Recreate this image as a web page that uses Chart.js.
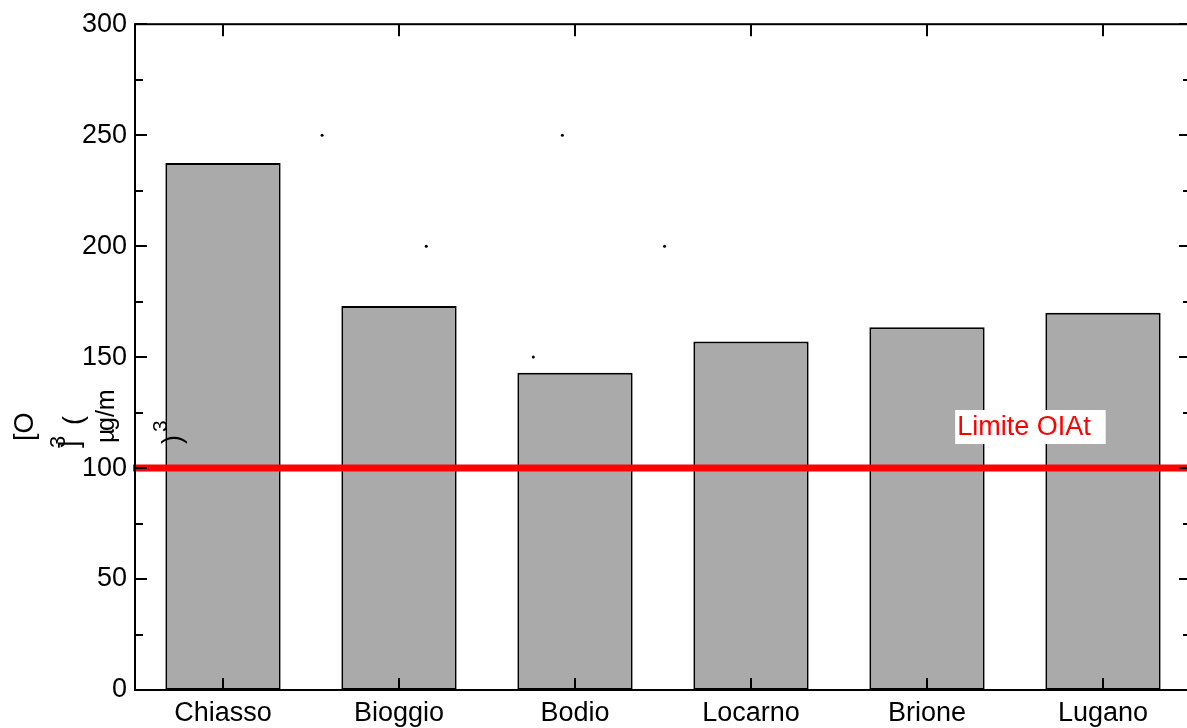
<!DOCTYPE html>
<html>
<head>
<meta charset="utf-8">
<script src="https://cdn.jsdelivr.net/npm/chart.js@4.4.1/dist/chart.umd.min.js"></script>
<style>
  html, body { margin: 0; padding: 0; background: #ffffff; overflow: hidden; }
  #wrap { position: relative; width: 1187px; height: 728px; overflow: hidden; }
  #chart { display: block; }
</style>
</head>
<body>
<div id="wrap"><canvas id="chart" width="1195" height="728"></canvas></div>
<script>
// Ozone peak concentrations per station (µg/m³)
const CATEGORIES = ['Chiasso', 'Bioggio', 'Bodio', 'Locarno', 'Brione', 'Lugano'];
const O3_PEAK = [237.5, 173, 143, 157, 163.5, 170];

// OIAt hourly limit value
const LIMIT_VALUE = 100;
const LIMIT_LABEL = 'Limite OIAt';

// Stray marker points (x in station-index units)
const MARK_X = [0.563, 1.928, 1.155, 2.509, 1.763];
const MARK_Y = [250, 250, 200, 200, 150];

const Y_MIN = 0, Y_MAX = 300, Y_STEP = 50, Y_MINOR = 25;

const FONT = '"Liberation Sans", Arial, sans-serif';
Chart.defaults.font.family = FONT;
Chart.defaults.color = '#000000';

// Frame, inward ticks, limit line, label and axis title
const decorations = {
  id: 'decorations',
  afterDatasetsDraw(chart) {
    const { ctx, chartArea: a, scales } = chart;
    const y = scales.y, x = scales.x, x2 = scales.x2;
    ctx.save();

    // limit line
    const yl = y.getPixelForValue(LIMIT_VALUE);
    ctx.strokeStyle = '#ff0000';
    ctx.lineWidth = 7;
    ctx.beginPath();
    ctx.moveTo(a.left - 2, yl);
    ctx.lineTo(a.right, yl);
    ctx.stroke();

    // frame
    ctx.strokeStyle = '#000000';
    ctx.lineWidth = 2;
    ctx.strokeRect(a.left, a.top, a.right - a.left, a.bottom - a.top);

    // y ticks, left and right, pointing inward
    for (let v = Y_MIN; v <= Y_MAX; v += Y_MINOR) {
      const py = Math.round(y.getPixelForValue(v));
      const len = (v % Y_STEP === 0) ? 12 : 8;
      ctx.beginPath();
      ctx.moveTo(a.left, py); ctx.lineTo(a.left + len, py);
      ctx.moveTo(a.right, py); ctx.lineTo(a.right - len, py);
      ctx.stroke();
    }
    // x ticks at each station, top and bottom, pointing inward
    CATEGORIES.forEach((c, i) => {
      const px = Math.round(x.getPixelForValue(i));
      ctx.beginPath();
      ctx.moveTo(px, a.top); ctx.lineTo(px, a.top + 12);
      ctx.moveTo(px, a.bottom); ctx.lineTo(px, a.bottom - 12);
      ctx.stroke();
    });

    // limit label on white box
    ctx.font = '27px ' + FONT;
    const tw = ctx.measureText(LIMIT_LABEL).width;
    const bx = x2.getPixelForValue(4.16);
    const by = y.getPixelForValue(118.5);
    ctx.fillStyle = '#ffffff';
    ctx.fillRect(bx, by - 17, tw + 17, 34);
    ctx.fillStyle = '#ff0000';
    ctx.textBaseline = 'middle';
    ctx.textAlign = 'left';
    ctx.fillText(LIMIT_LABEL, bx + 2, by + 1);

    // rotated y-axis title pieces
    ctx.fillStyle = '#000000';
    ctx.textBaseline = 'alphabetic';
    const parts = [
      { t: '[O', s: 27, x: 33, y: 441 },
      { t: '3', s: 22, x: 65, y: 448 },
      { t: ']', s: 27, x: 78, y: 448 },
      { t: '(', s: 27, x: 82, y: 425 },
      { t: 'µ', s: 25, x: 114, y: 443 },
      { t: 'g/m', s: 25, x: 114, y: 431 },
      { t: '3', s: 21, x: 167, y: 432 },
      { t: ')', s: 27, x: 181, y: 444 }
    ];
    parts.forEach(p => {
      ctx.save();
      ctx.translate(p.x, p.y);
      ctx.rotate(-Math.PI / 2);
      ctx.font = p.s + 'px ' + FONT;
      ctx.fillText(p.t, 0, 0);
      ctx.restore();
    });

    ctx.restore();
  }
};

new Chart(document.getElementById('chart'), {
  type: 'bar',
  data: {
    labels: CATEGORIES,
    datasets: [
      {
        data: O3_PEAK,
        backgroundColor: '#aaaaaa',
        borderColor: '#000000',
        borderWidth: 2,
        borderSkipped: false,
        barPercentage: 0.655,
        categoryPercentage: 1,
        grouped: false,
        order: 1
      },
      {
        type: 'scatter',
        data: MARK_X.map((v, i) => ({ x: v, y: MARK_Y[i] })),
        xAxisID: 'x2',
        pointRadius: 1.5,
        pointBackgroundColor: '#000000',
        pointBorderWidth: 0,
        order: 0
      }
    ]
  },
  options: {
    responsive: false,
    animation: false,
    layout: { padding: { top: 23, right: 0, bottom: 0, left: 0 } },
    plugins: { legend: { display: false }, tooltip: { enabled: false } },
    scales: {
      x: {
        type: 'category',
        offset: true,
        grid: { display: false, drawTicks: false },
        border: { display: false },
        ticks: { font: { size: 27 }, color: '#000000', padding: 7, maxRotation: 0 },
        afterFit(s) { s.height = 38; }
      },
      x2: {
        type: 'linear',
        display: false,
        offset: false,
        min: -0.5,
        max: 5.5
      },
      y: {
        min: Y_MIN,
        max: Y_MAX,
        grid: { display: false, drawTicks: false },
        border: { display: false },
        ticks: { stepSize: Y_STEP, font: { size: 27 }, color: '#000000', padding: 8 },
        afterFit(s) { s.width = 135; }
      }
    }
  },
  plugins: [decorations]
});
</script>
</body>
</html>
